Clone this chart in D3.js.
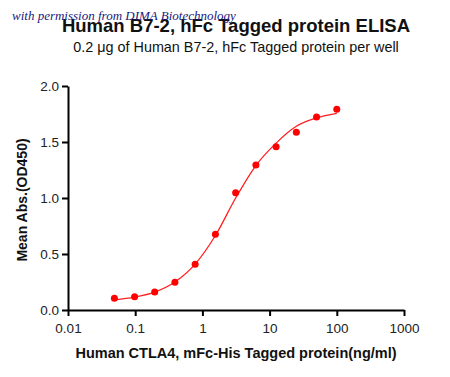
<!DOCTYPE html>
<html><head><meta charset="utf-8">
<script src="https://cdn.jsdelivr.net/npm/d3@7/dist/d3.min.js"></script>
<style>body{margin:0;background:#fff}svg{display:block}</style>
</head><body>
<script>
const concentrations = [0.049, 0.098, 0.195, 0.39, 0.78, 1.5625, 3.125, 6.25, 12.5, 25, 50, 100];
const meanAbs = [0.104, 0.119, 0.161, 0.247, 0.408, 0.676, 1.047, 1.295, 1.458, 1.586, 1.723, 1.792];
const fitValues = [0.09, 0.115, 0.16, 0.25, 0.41, 0.665, 1.0, 1.29, 1.49, 1.64, 1.715, 1.755];
const xTicks = [0.01, 0.1, 1, 10, 100, 1000];
const xTickLabels = ["0.01", "0.1", "1", "10", "100", "1000"];
const yTicks = [0, 0.5, 1.0, 1.5, 2.0];

const W = 450, H = 377;
const svg = d3.select("body").append("svg").attr("width", W).attr("height", H);
const x = d3.scaleLog().domain([0.01, 1000]).range([68, 404]);
const y = d3.scaleLinear().domain([0, 2]).range([310, 86]);
const SANS = "Liberation Sans, Arial, sans-serif";

svg.append("text").attr("x", 236).attr("y", 32).attr("text-anchor", "middle")
  .attr("font-family", SANS).attr("font-weight", "bold")
  .attr("font-size", 18.5).attr("fill", "#111").text("Human B7-2, hFc Tagged protein ELISA");
svg.append("text").attr("x", 12).attr("y", 20)
  .attr("font-family", "'Liberation Serif', serif").attr("font-style", "italic")
  .attr("font-size", 13).attr("fill", "#1a2080").text("with permission from DIMA Biotechnology");
svg.append("text").attr("x", 236).attr("y", 52).attr("text-anchor", "middle")
  .attr("font-family", SANS)
  .attr("font-size", 14.4).attr("fill", "#111").text("0.2 μg of Human B7-2, hFc Tagged protein per well");

const xAxis = svg.append("g").attr("transform", "translate(0,310)")
  .call(d3.axisBottom(x).tickValues(xTicks).tickFormat((d, i) => xTickLabels[i]).tickSize(6).tickSizeOuter(0));
const yAxis = svg.append("g").attr("transform", "translate(68,0)")
  .call(d3.axisLeft(y).tickValues(yTicks).tickFormat(d3.format(".1f")).tickSize(6).tickSizeOuter(0));
[xAxis, yAxis].forEach(g => {
  g.selectAll("path").attr("stroke", "#000").attr("stroke-width", 2);
  g.selectAll("line").attr("stroke", "#000").attr("stroke-width", 2);
  g.selectAll("text").attr("font-family", SANS).attr("font-size", 13.5).attr("fill", "#222");
});
xAxis.selectAll("text").attr("dy", "1.05em");

svg.append("text").attr("x", 236).attr("y", 358).attr("text-anchor", "middle")
  .attr("font-family", SANS).attr("font-weight", "bold")
  .attr("font-size", 14.5).attr("fill", "#111").text("Human CTLA4, mFc-His Tagged protein(ng/ml)");
svg.append("text").attr("transform", "translate(27,200) rotate(-90)").attr("text-anchor", "middle")
  .attr("font-family", SANS).attr("font-weight", "bold")
  .attr("font-size", 14).attr("fill", "#111").text("Mean Abs.(OD450)");

const line = d3.line().x(d => x(d[0])).y(d => y(d[1])).curve(d3.curveMonotoneX);
svg.append("path").datum(concentrations.map((c, i) => [c, fitValues[i]]))
  .attr("d", line).attr("fill", "none").attr("stroke", "#ff2020").attr("stroke-width", 1.3);
svg.selectAll("circle").data(concentrations.map((c, i) => [c, meanAbs[i]])).enter().append("circle")
  .attr("cx", d => x(d[0])).attr("cy", d => y(d[1])).attr("r", 3.5).attr("fill", "#ff0000");
</script>
</body></html>
